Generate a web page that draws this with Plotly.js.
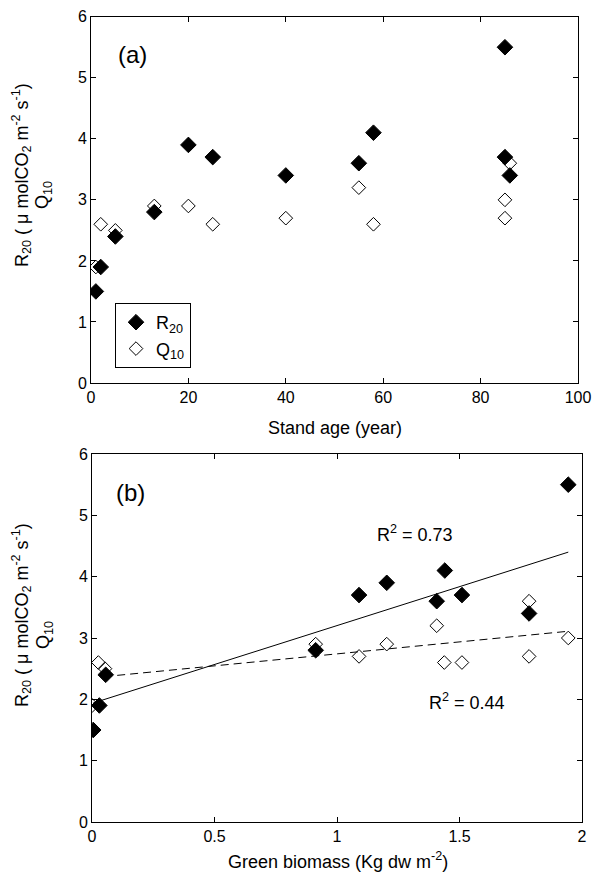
<!DOCTYPE html>
<html>
<head>
<meta charset="utf-8">
<script src="https://cdn.plot.ly/plotly-3.0.1.min.js"></script>
<style>html,body{margin:0;padding:0;background:#fff;}#chart{width:596px;height:877px;}</style>
</head>
<body>
<div id="chart"></div>
<script>
// Panel (a): stand age
const ageR20 = [1, 2, 5, 13, 20, 25, 40, 55, 58, 85, 85, 86];
const r20A   = [1.5, 1.9, 2.4, 2.8, 3.9, 3.7, 3.4, 3.6, 4.1, 5.5, 3.7, 3.4];
const ageQ10 = [1, 2, 5, 13, 20, 25, 40, 55, 58, 86, 85, 85];
const q10A   = [1.9, 2.6, 2.5, 2.9, 2.9, 2.6, 2.7, 3.2, 2.6, 3.6, 3.0, 2.7];

// Panel (b): green biomass
const bioR20 = [0.005, 0.03, 0.056, 0.913, 1.09, 1.203, 1.407, 1.44, 1.51, 1.784, 1.944];
const r20B   = [1.5, 1.9, 2.4, 2.8, 3.7, 3.9, 3.6, 4.1, 3.7, 3.4, 5.5];
const bioQ10 = [0.001, 0.026, 0.053, 0.913, 1.09, 1.203, 1.407, 1.438, 1.51, 1.784, 1.784, 1.944];
const q10B   = [1.9, 2.6, 2.5, 2.9, 2.7, 2.9, 3.2, 2.6, 2.6, 3.6, 2.7, 3.0];

// Regression lines
const fitR20X = [0.005, 1.944];
const fitR20Y = [1.94, 4.40];
const fitQ10X = [0.05, 1.944];
const fitQ10Y = [2.37, 3.11];

const xTicksA = [0, 20, 40, 60, 80, 100];
const xTicksB = [0, 0.5, 1, 1.5, 2];
const yTicks  = [0, 1, 2, 3, 4, 5, 6];

const FONT = 'Liberation Sans, Arial, sans-serif';
const filled = {symbol: 'diamond', size: 12, color: '#000', line: {color: '#000', width: 1}};
const open = {symbol: 'diamond-open', size: 10.5, color: '#000', line: {color: '#000', width: 1}};

const traces = [
  {x: ageR20, y: r20A, mode: 'markers', type: 'scatter', name: 'R<sub>20</sub>', marker: filled, xaxis: 'x', yaxis: 'y'},
  {x: ageQ10, y: q10A, mode: 'markers', type: 'scatter', name: 'Q<sub>10</sub>', marker: open, xaxis: 'x', yaxis: 'y'},
  {x: fitR20X, y: fitR20Y, mode: 'lines', type: 'scatter', line: {color: '#000', width: 1}, showlegend: false, xaxis: 'x2', yaxis: 'y2'},
  {x: fitQ10X, y: fitQ10Y, mode: 'lines', type: 'scatter', line: {color: '#000', width: 1, dash: '8px,5px'}, showlegend: false, xaxis: 'x2', yaxis: 'y2'},
  {x: bioQ10, y: q10B, mode: 'markers', type: 'scatter', marker: open, showlegend: false, xaxis: 'x2', yaxis: 'y2'},
  {x: bioR20, y: r20B, mode: 'markers', type: 'scatter', marker: filled, showlegend: false, xaxis: 'x2', yaxis: 'y2'}
];

function axisBase(extra) {
  return Object.assign({
    showline: true, linecolor: '#000', linewidth: 1, mirror: 'ticks',
    ticks: 'inside', ticklen: 5, tickcolor: '#000', tickwidth: 1,
    showgrid: false, zeroline: false, tickmode: 'array',
    tickfont: {family: FONT, size: 16, color: '#000'}, fixedrange: true
  }, extra);
}

const W = 596, H = 877;
const px = v => v / W;
const py = v => 1 - v / H;

function ann(text, x, y, size, angle) {
  const a = {text: text, x: px(x), y: py(y), xref: 'paper', yref: 'paper',
    xanchor: 'center', yanchor: 'middle', showarrow: false,
    font: {family: FONT, size: size, color: '#000'}};
  if (angle) a.textangle = angle;
  return a;
}

const yTitle = 'R<sub>20</sub> ( μ molCO<sub>2</sub> m<sup>-2</sup> s<sup>-1</sup>)';

const layout = {
  width: W, height: H,
  margin: {l: 0, r: 0, t: 0, b: 0},
  paper_bgcolor: '#fff', plot_bgcolor: '#fff',
  font: {family: FONT, size: 16, color: '#000'},
  xaxis: axisBase({domain: [px(91), px(578)], range: [0, 100], tickvals: xTicksA, anchor: 'y'}),
  yaxis: axisBase({domain: [py(383), py(16.7)], range: [0, 6], tickvals: yTicks, anchor: 'x'}),
  xaxis2: axisBase({domain: [px(92), px(582)], range: [0, 2], tickvals: xTicksB, anchor: 'y2'}),
  yaxis2: axisBase({domain: [py(822), py(454)], range: [0, 6], tickvals: yTicks, anchor: 'x2'}),
  showlegend: true,
  legend: {
    x: px(115), y: py(303), xanchor: 'left', yanchor: 'top',
    bordercolor: '#000', borderwidth: 1, bgcolor: '#fff',
    font: {family: FONT, size: 18, color: '#000'},
    tracegroupgap: 0, itemwidth: 30
  },
  annotations: [
    ann('(a)', 132, 55, 24),
    ann('(b)', 130, 492, 24),
    ann('Stand age (year)', 334.5, 428, 18),
    ann('Green biomass (Kg dw m<sup>-2</sup>)', 337.5, 860, 18),
    ann(yTitle, 21, 175, 18, -90),
    ann('Q<sub>10</sub>', 44, 195, 18, -90),
    ann(yTitle, 21, 615, 18, -90),
    ann('Q<sub>10</sub>', 44, 635, 18, -90),
    ann('R<sup>2</sup> = 0.73', 415, 533, 18),
    ann('R<sup>2</sup> = 0.44', 467, 701, 18)
  ]
};

Plotly.newPlot('chart', traces, layout, {displayModeBar: false, staticPlot: true});
</script>
</body>
</html>
